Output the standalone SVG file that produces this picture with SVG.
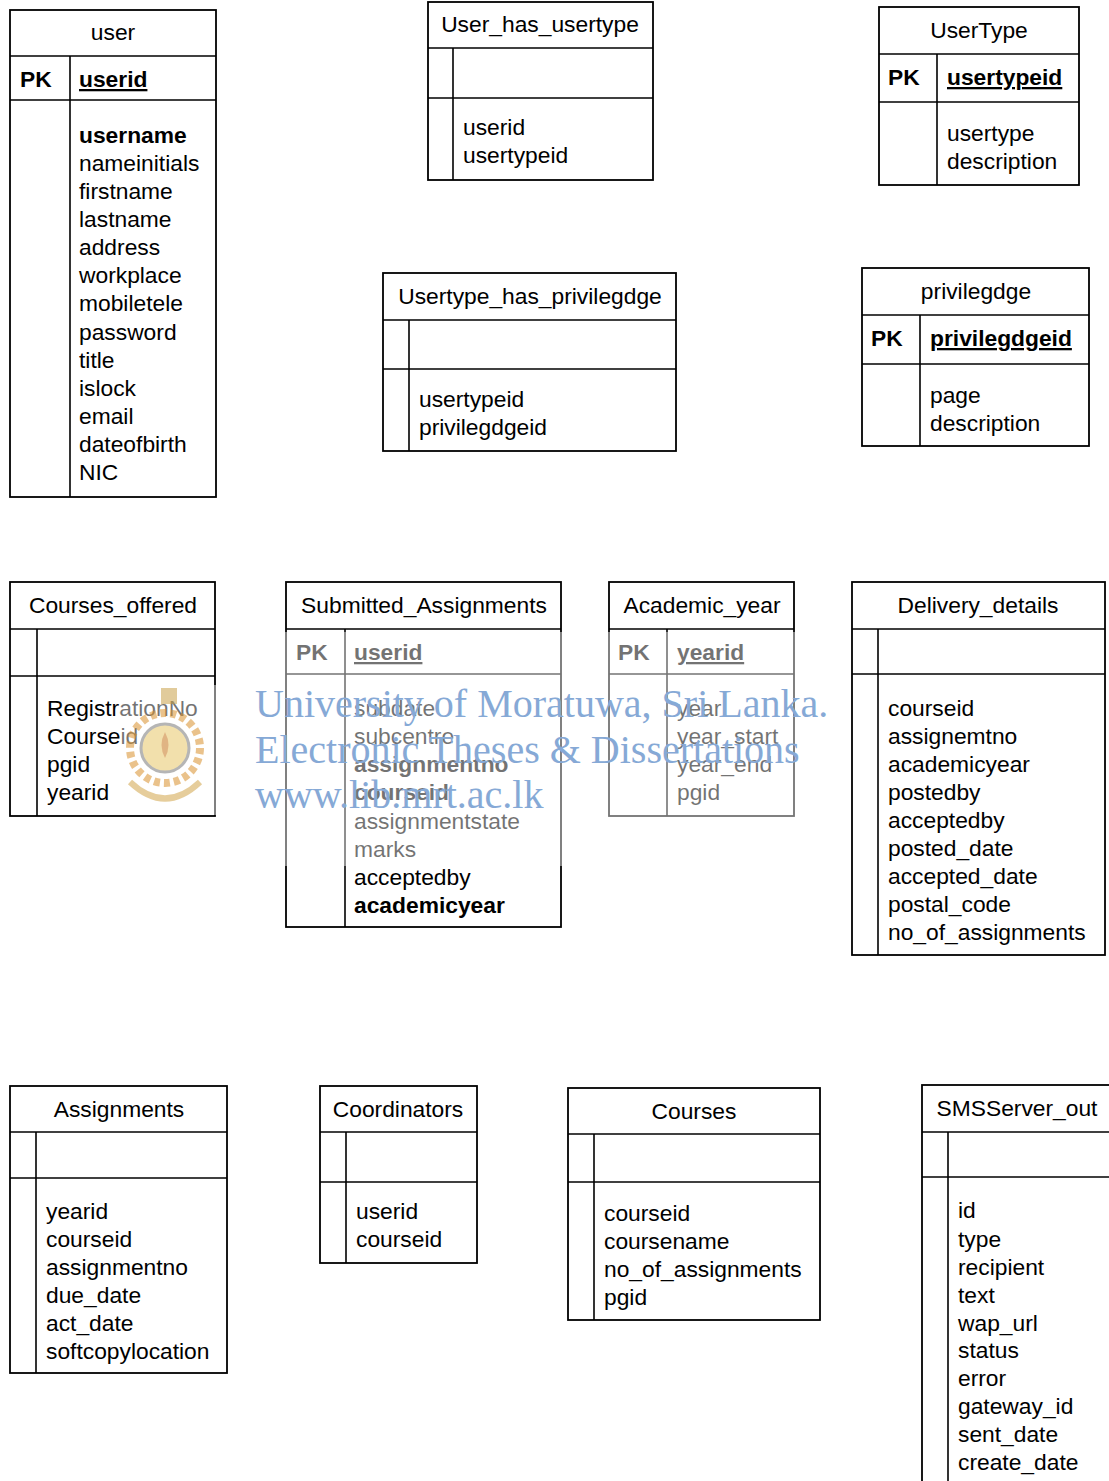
<svg xmlns="http://www.w3.org/2000/svg" width="1109" height="1481" viewBox="0 0 1109 1481">
<style>
.box{fill:none;stroke:#000;stroke-width:1.8}
.ln{stroke:#000;stroke-width:1.6}
text{font-family:"Liberation Sans",Arial,sans-serif;font-size:22.8px;fill:#000}
.t{text-anchor:middle}
.b{font-weight:bold}
.u{font-weight:bold;text-decoration:underline}
.wm{font-family:"Liberation Serif","Times New Roman",serif;font-size:40px;fill:#86a9d6}
</style>
<rect width="1109" height="1481" fill="#fff"/>

<g id="user">
<rect class="box" x="10" y="10" width="206" height="487"/>
<line class="ln" x1="10" y1="56" x2="216" y2="56"/>
<line class="ln" x1="10" y1="100" x2="216" y2="100"/>
<line class="ln" x1="70" y1="56" x2="70" y2="497"/>
<text class="t" x="113" y="40">user</text>
<text class="b" x="20" y="87">PK</text>
<text class="u" x="79" y="87">userid</text>
<text class="b" x="79" y="143">username</text>
<text x="79" y="171">nameinitials</text>
<text x="79" y="199">firstname</text>
<text x="79" y="227">lastname</text>
<text x="79" y="255">address</text>
<text x="79" y="283">workplace</text>
<text x="79" y="311">mobiletele</text>
<text x="79" y="340">password</text>
<text x="79" y="368">title</text>
<text x="79" y="396">islock</text>
<text x="79" y="424">email</text>
<text x="79" y="452">dateofbirth</text>
<text x="79" y="480">NIC</text>
</g>

<g id="User_has_usertype">
<rect class="box" x="428" y="2" width="225" height="178"/>
<line class="ln" x1="428" y1="48" x2="653" y2="48"/>
<line class="ln" x1="428" y1="98" x2="653" y2="98"/>
<line class="ln" x1="453" y1="48" x2="453" y2="180"/>
<text class="t" x="540" y="32">User_has_usertype</text>
<text x="463" y="135">userid</text>
<text x="463" y="163">usertypeid</text>
</g>

<g id="UserType">
<rect class="box" x="879" y="7" width="200" height="178"/>
<line class="ln" x1="879" y1="54" x2="1079" y2="54"/>
<line class="ln" x1="879" y1="102" x2="1079" y2="102"/>
<line class="ln" x1="937" y1="54" x2="937" y2="185"/>
<text class="t" x="979" y="38">UserType</text>
<text class="b" x="888" y="85">PK</text>
<text class="u" x="947" y="85">usertypeid</text>
<text x="947" y="141">usertype</text>
<text x="947" y="169">description</text>
</g>

<g id="Usertype_has_privilegdge">
<rect class="box" x="383" y="273" width="293" height="178"/>
<line class="ln" x1="383" y1="320" x2="676" y2="320"/>
<line class="ln" x1="383" y1="369" x2="676" y2="369"/>
<line class="ln" x1="409" y1="320" x2="409" y2="451"/>
<text class="t" x="530" y="304">Usertype_has_privilegdge</text>
<text x="419" y="407">usertypeid</text>
<text x="419" y="435">privilegdgeid</text>
</g>

<g id="privilegdge">
<rect class="box" x="862" y="268" width="227" height="178"/>
<line class="ln" x1="862" y1="315" x2="1089" y2="315"/>
<line class="ln" x1="862" y1="364" x2="1089" y2="364"/>
<line class="ln" x1="920" y1="315" x2="920" y2="446"/>
<text class="t" x="976" y="299">privilegdge</text>
<text class="b" x="871" y="346">PK</text>
<text class="u" x="930" y="346">privilegdgeid</text>
<text x="930" y="403">page</text>
<text x="930" y="431">description</text>
</g>

<g id="Courses_offered">
<rect class="box" x="10" y="582" width="205" height="234"/>
<line class="ln" x1="10" y1="629" x2="215" y2="629"/>
<line class="ln" x1="10" y1="676" x2="215" y2="676"/>
<line class="ln" x1="37" y1="629" x2="37" y2="816"/>
<text class="t" x="113" y="613">Courses_offered</text>
<text x="47" y="716">RegistrationNo</text>
<text x="47" y="744">Courseid</text>
<text x="47" y="772">pgid</text>
<text x="47" y="800">yearid</text>
</g>

<g id="Submitted_Assignments">
<rect class="box" x="286" y="582" width="275" height="345"/>
<line class="ln" x1="286" y1="629" x2="561" y2="629"/>
<line class="ln" x1="286" y1="674" x2="561" y2="674"/>
<line class="ln" x1="345" y1="629" x2="345" y2="927"/>
<text class="t" x="424" y="613">Submitted_Assignments</text>
<text class="b" x="296" y="660">PK</text>
<text class="u" x="354" y="660">userid</text>
<text x="354" y="716">subdate</text>
<text x="354" y="744">subcentre</text>
<text class="b" x="354" y="772">assignmentno</text>
<text class="b" x="354" y="800">courseid</text>
<text x="354" y="829">assignmentstate</text>
<text x="354" y="857">marks</text>
<text x="354" y="885">acceptedby</text>
<text class="b" x="354" y="913">academicyear</text>
</g>

<g id="Academic_year">
<rect class="box" x="609" y="582" width="185" height="234"/>
<line class="ln" x1="609" y1="629" x2="794" y2="629"/>
<line class="ln" x1="609" y1="674" x2="794" y2="674"/>
<line class="ln" x1="667" y1="629" x2="667" y2="816"/>
<text class="t" x="702" y="613">Academic_year</text>
<text class="b" x="618" y="660">PK</text>
<text class="u" x="677" y="660">yearid</text>
<text x="677" y="716">year</text>
<text x="677" y="744">year_start</text>
<text x="677" y="772">year_end</text>
<text x="677" y="800">pgid</text>
</g>

<g id="Delivery_details">
<rect class="box" x="852" y="582" width="253" height="373"/>
<line class="ln" x1="852" y1="629" x2="1105" y2="629"/>
<line class="ln" x1="852" y1="674" x2="1105" y2="674"/>
<line class="ln" x1="878" y1="629" x2="878" y2="955"/>
<text class="t" x="978" y="613">Delivery_details</text>
<text x="888" y="716">courseid</text>
<text x="888" y="744">assignemtno</text>
<text x="888" y="772">academicyear</text>
<text x="888" y="800">postedby</text>
<text x="888" y="828">acceptedby</text>
<text x="888" y="856">posted_date</text>
<text x="888" y="884">accepted_date</text>
<text x="888" y="912">postal_code</text>
<text x="888" y="940">no_of_assignments</text>
</g>

<g id="Assignments">
<rect class="box" x="10" y="1086" width="217" height="287"/>
<line class="ln" x1="10" y1="1132" x2="227" y2="1132"/>
<line class="ln" x1="10" y1="1178" x2="227" y2="1178"/>
<line class="ln" x1="36" y1="1132" x2="36" y2="1373"/>
<text class="t" x="119" y="1117">Assignments</text>
<text x="46" y="1219">yearid</text>
<text x="46" y="1247">courseid</text>
<text x="46" y="1275">assignmentno</text>
<text x="46" y="1303">due_date</text>
<text x="46" y="1331">act_date</text>
<text x="46" y="1359">softcopylocation</text>
</g>

<g id="Coordinators">
<rect class="box" x="320" y="1086" width="157" height="177"/>
<line class="ln" x1="320" y1="1132" x2="477" y2="1132"/>
<line class="ln" x1="320" y1="1182" x2="477" y2="1182"/>
<line class="ln" x1="346" y1="1132" x2="346" y2="1263"/>
<text class="t" x="398" y="1117">Coordinators</text>
<text x="356" y="1219">userid</text>
<text x="356" y="1247">courseid</text>
</g>

<g id="Courses">
<rect class="box" x="568" y="1088" width="252" height="232"/>
<line class="ln" x1="568" y1="1134" x2="820" y2="1134"/>
<line class="ln" x1="568" y1="1182" x2="820" y2="1182"/>
<line class="ln" x1="594" y1="1134" x2="594" y2="1320"/>
<text class="t" x="694" y="1119">Courses</text>
<text x="604" y="1221">courseid</text>
<text x="604" y="1249">coursename</text>
<text x="604" y="1277">no_of_assignments</text>
<text x="604" y="1305">pgid</text>
</g>

<g id="SMSServer_out">
<rect class="box" x="922" y="1085" width="200" height="410"/>
<line class="ln" x1="922" y1="1132" x2="1122" y2="1132"/>
<line class="ln" x1="922" y1="1177" x2="1122" y2="1177"/>
<line class="ln" x1="948" y1="1132" x2="948" y2="1495"/>
<text class="t" x="1017" y="1116">SMSServer_out</text>
<text x="958" y="1218">id</text>
<text x="958" y="1247">type</text>
<text x="958" y="1275">recipient</text>
<text x="958" y="1303">text</text>
<text x="958" y="1331">wap_url</text>
<text x="958" y="1358">status</text>
<text x="958" y="1386">error</text>
<text x="958" y="1414">gateway_id</text>
<text x="958" y="1442">sent_date</text>
<text x="958" y="1470">create_date</text>
</g>

<g id="connectors"></g>

<g id="watermark">
<rect x="250" y="632" width="580" height="234" fill="#fff" fill-opacity="0.45"/>
<rect x="120" y="685" width="96" height="130" fill="#fff" fill-opacity="0.45"/>
<g opacity="0.55">
<circle cx="165" cy="748" r="35" fill="none" stroke="#d9922e" stroke-width="8" stroke-dasharray="6 4"/>
<circle cx="165" cy="748" r="24" fill="#e8c86a" stroke="#7a7a7a" stroke-width="3"/>
<path d="M165 732 Q172 745 165 758 Q158 745 165 732 Z" fill="#c8781e"/>
<path d="M130 782 Q165 815 200 782" fill="none" stroke="#d2a64a" stroke-width="6"/>
<rect x="161" y="688" width="16" height="16" fill="#c9a24a"/>
</g>
<text class="wm" x="255" y="717">University of Moratuwa, Sri Lanka.</text>
<text class="wm" x="255" y="763">Electronic Theses &amp; Dissertations</text>
<text class="wm" x="255" y="808">www.lib.mrt.ac.lk</text>
</g>
</svg>
